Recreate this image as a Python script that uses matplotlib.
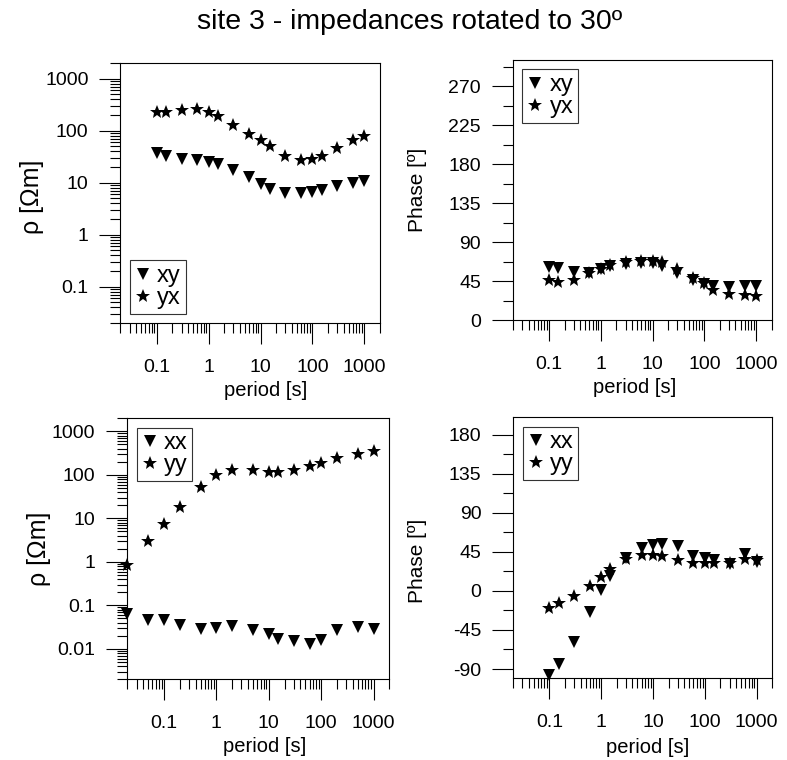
import numpy as np
import matplotlib.pyplot as plt
from matplotlib.ticker import LogLocator, MultipleLocator, NullFormatter, FuncFormatter

plt.rcParams['font.family'] = ['Liberation Sans', 'DejaVu Sans']

# Periods [s] (top panels and bottom-right phase panel)
period = [0.1, 0.15, 0.3, 0.6, 1, 1.5, 3, 6, 10, 15, 30, 60, 100, 150, 300, 600, 1000]
# Periods [s] of the bottom-left resistivity panel
period_diag = [0.02, 0.05, 0.1, 0.2, 0.5, 1, 2, 5, 10, 15, 30, 60, 100, 200, 500, 1000]

# Off-diagonal apparent resistivity [Ohm m]
rho_xy = [38, 33, 29, 27.5, 25, 23, 17.6, 12.7, 9.4, 7.7, 6.4, 6.2, 6.7, 7.2, 8.6, 9.7, 10.6]
rho_yx = [226, 230, 255, 263, 230, 189, 129, 85, 65, 50, 32, 27.5, 29, 33, 46, 65, 80]

# Off-diagonal phase [deg]
phase_xy = [61.5, 59.7, 55, 54.6, 58.5, 62.3, 64.6, 66.1, 65.4, 62.3, 53.9, 46.2, 41.2, 39.6, 38.4, 39.6, 39.6]
phase_yx = [46.2, 44.2, 46.2, 53.9, 58.5, 63.5, 67.3, 68.4, 68.4, 67.3, 58.5, 48.1, 42.3, 34.6, 29.6, 28.8, 28.0]

# Diagonal apparent resistivity [Ohm m]
rho_xx = [0.064, 0.047, 0.047, 0.035, 0.028, 0.031, 0.033, 0.027, 0.0225, 0.017, 0.015, 0.0132, 0.0158, 0.027, 0.032, 0.029]
rho_yy = [0.87, 3.0, 7.6, 18, 54, 99, 131, 131, 117, 117, 131, 163, 187, 245, 309, 347]

# Diagonal phase [deg]
phase_xx = [-97.2, -83.9, -59.1, -24.8, 1.1, 17.2, 38.1, 49.6, 53.4, 54.2, 51.5, 40, 37.4, 35.5, 30.5, 42.7, 33.2]
phase_yy = [-20.2, -14.1, -5.7, 5.7, 16.4, 24.8, 36.2, 41.2, 41.2, 40.0, 35.5, 32.4, 32.4, 31.7, 32.4, 36.2, 35.5]

fmt = FuncFormatter(lambda v, p: '%g' % v)


# Common styling of the log period axis and the box
def style(ax):
    ax.set_xscale('log')
    ax.set_xlim(0.02, 2000)
    ax.xaxis.set_major_locator(LogLocator(base=10, numticks=20))
    ax.xaxis.set_minor_locator(LogLocator(base=10, subs=np.arange(2, 10), numticks=100))
    ax.xaxis.set_major_formatter(fmt)
    ax.xaxis.set_minor_formatter(NullFormatter())
    ax.tick_params(which='major', direction='out', length=15, width=0.8, labelsize=14, pad=11)
    ax.tick_params(which='minor', direction='out', length=7.5, width=0.8)
    ax.tick_params(axis='y', which='major', pad=8)
    for s in ax.spines.values():
        s.set_linewidth(0.8)
    ax.set_xlabel('period [s]', fontsize=14.5)


def log_y(ax, lo, hi):
    ax.set_yscale('log')
    ax.set_ylim(lo, hi)
    ax.yaxis.set_major_locator(LogLocator(base=10, numticks=20))
    ax.yaxis.set_minor_locator(LogLocator(base=10, subs=np.arange(2, 10), numticks=100))
    ax.yaxis.set_major_formatter(fmt)
    ax.yaxis.set_minor_formatter(NullFormatter())
    ax.set_ylabel('ρ [Ωm]', fontsize=18)


def phase_y(ax, lo, hi):
    ax.set_ylim(lo, hi)
    ax.yaxis.set_major_locator(MultipleLocator(45))
    ax.yaxis.set_minor_locator(MultipleLocator(22.5))
    ax.yaxis.set_major_formatter(fmt)
    ax.set_ylabel('Phase [º]', fontsize=15)


def points(ax, x, y1, y2, l1, l2):
    ax.plot(x, y1, 'v', color='k', ms=8, mew=0, ls='none', label=l1, clip_on=False)
    ax.plot(x, y2, '*', color='k', ms=10.5, mew=0, ls='none', label=l2, clip_on=False)


def legend(ax, loc):
    lg = ax.legend(loc=loc, fontsize=17, numpoints=1, fancybox=False, framealpha=1,
                   edgecolor='#333333', handlelength=0.7, handletextpad=0.25,
                   borderpad=0.2, labelspacing=0.0, borderaxespad=0.4)
    lg.get_frame().set_linewidth(0.8)


fig = plt.figure(figsize=(7.87, 7.6), dpi=100)

# Top left: resistivity xy / yx
ax1 = fig.add_axes([0.1531, 0.575, 0.3297, 0.3421])
points(ax1, period, rho_xy, rho_yx, 'xy', 'yx')
style(ax1)
log_y(ax1, 0.02, 2000)
legend(ax1, 'lower left')
ax1.yaxis.set_label_coords(-0.295, 0.485)
ax1.xaxis.set_label_coords(0.56, -0.222)

# Top right: phase xy / yx
ax2 = fig.add_axes([0.6518, 0.5789, 0.3287, 0.3421])
points(ax2, period, phase_xy, phase_yx, 'xy', 'yx')
style(ax2)
phase_y(ax2, 0, 300)
legend(ax2, 'upper left')
ax2.yaxis.set_label_coords(-0.332, 0.5)
ax2.xaxis.set_label_coords(0.47, -0.222)

# Bottom left: resistivity xx / yy
ax3 = fig.add_axes([0.1618, 0.1062, 0.3329, 0.3434])
points(ax3, period_diag, rho_xx, rho_yy, 'xx', 'yy')
style(ax3)
log_y(ax3, 0.002, 2000)
legend(ax3, 'upper left')
ax3.yaxis.set_label_coords(-0.291, 0.5)
ax3.xaxis.set_label_coords(0.524, -0.22)

# Bottom right: phase xx / yy
ax4 = fig.add_axes([0.6522, 0.1083, 0.3291, 0.3426])
points(ax4, period, phase_xx, phase_yy, 'xx', 'yy')
style(ax4)
phase_y(ax4, -100, 200)
legend(ax4, 'upper left')
ax4.yaxis.set_label_coords(-0.333, 0.45)
ax4.xaxis.set_label_coords(0.52, -0.232)

fig.text(0.521, 0.971, 'site 3 - impedances rotated to 30º', ha='center', va='center', fontsize=20.5)

fig.savefig('out.png', dpi=100)
